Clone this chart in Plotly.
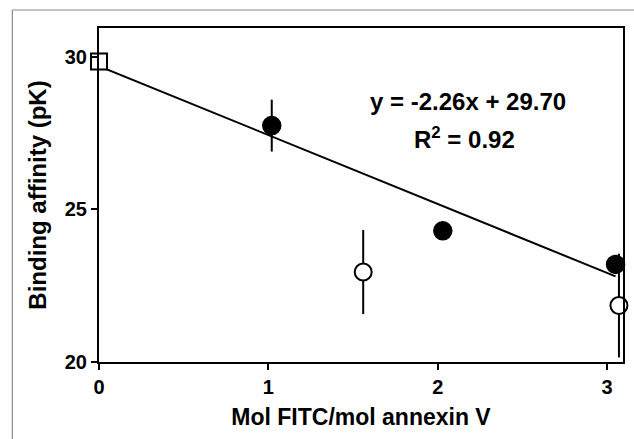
import plotly.graph_objects as go

# Data
fill_x = [1.02, 2.03, 3.05]
fill_y = [27.75, 24.3, 23.2]
fill_err = [0.85, 0.0, 0.0]

open_x = [1.56, 3.07]
open_y = [22.95, 21.85]
open_err = [1.38, 1.7]

sq_x = [0.0]
sq_y = [29.85]

slope = -2.26
intercept = 29.70
fit_x = [0.0, 3.05]
fit_y = [intercept + slope * v for v in fit_x]

x_ticks = [0, 1, 2, 3]
y_ticks = [20, 25, 30]

eq_text = "y = -2.26x + 29.70"
r2_text = "R<sup>2</sup> = 0.92"

FONT = "Liberation Sans, Arial, sans-serif"

fig = go.Figure()
fig.add_trace(go.Scatter(x=fit_x, y=fit_y, mode="lines",
                         line=dict(color="black", width=2), hoverinfo="skip"))
fig.add_trace(go.Scatter(x=fill_x, y=fill_y, mode="markers",
                         error_y=dict(type="data", array=fill_err, color="black", thickness=2, width=0),
                         marker=dict(size=18, color="black", line=dict(color="black", width=1.5)),
                         cliponaxis=False))
fig.add_trace(go.Scatter(x=open_x, y=open_y, mode="markers",
                         error_y=dict(type="data", array=open_err, color="black", thickness=2, width=0),
                         marker=dict(size=17, color="white", line=dict(color="black", width=2)),
                         cliponaxis=False))
fig.add_trace(go.Scatter(x=sq_x, y=sq_y, mode="markers",
                         marker=dict(size=16, symbol="square", color="white", line=dict(color="black", width=2)),
                         cliponaxis=False))

L, R, T, B = 99, 9, 28, 77
W, H = 634, 439
pw, ph = W - L - R, H - T - B

def px(xp):
    return (xp - L) / pw

def py(yp):
    return (H - B - yp) / ph

# gray frame (top and left edges)
fig.add_shape(type="line", xref="paper", yref="paper", x0=px(12), x1=px(640), y0=py(10), y1=py(10),
              line=dict(color="#8a8a8a", width=1.2))
fig.add_shape(type="line", xref="paper", yref="paper", x0=px(12), x1=px(12), y0=py(10), y1=py(445),
              line=dict(color="#8a8a8a", width=1.2))

fig.add_annotation(xref="paper", yref="paper", x=px(469), y=py(102), text=eq_text,
                   showarrow=False, xanchor="center", yanchor="middle",
                   font=dict(family=FONT, size=24, color="black", weight="bold"))
fig.add_annotation(xref="paper", yref="paper", x=px(466), y=py(138), text=r2_text,
                   showarrow=False, xanchor="center", yanchor="middle",
                   font=dict(family=FONT, size=24, color="black", weight="bold"))

fig.update_layout(
    width=W, height=H,
    margin=dict(l=L, r=R, t=T, b=B),
    plot_bgcolor="white", paper_bgcolor="white",
    showlegend=False,
    font=dict(family=FONT, color="black"),
)
fig.update_xaxes(range=[0, 3.094], tickvals=x_ticks, ticktext=[str(v) for v in x_ticks],
                 showgrid=False, zeroline=False, showline=True, linecolor="black", linewidth=2,
                 mirror=True, ticks="outside", ticklen=6, tickwidth=2, tickcolor="black",
                 tickfont=dict(family=FONT, size=20, color="black", weight="bold"),
                 title=dict(text="Mol FITC/mol annexin V",
                            font=dict(family=FONT, size=23, weight="bold"), standoff=12))
fig.update_yaxes(range=[20, 30.95], tickvals=y_ticks, ticktext=[str(v) for v in y_ticks],
                 showgrid=False, zeroline=False, showline=True, linecolor="black", linewidth=2,
                 mirror=True, ticks="outside", ticklen=6, tickwidth=2, tickcolor="black",
                 tickfont=dict(family=FONT, size=20, color="black", weight="bold"),
                 title=dict(text="Binding affinity (pK)",
                            font=dict(family=FONT, size=24, weight="bold"), standoff=11))

fig.write_html("out.html")
